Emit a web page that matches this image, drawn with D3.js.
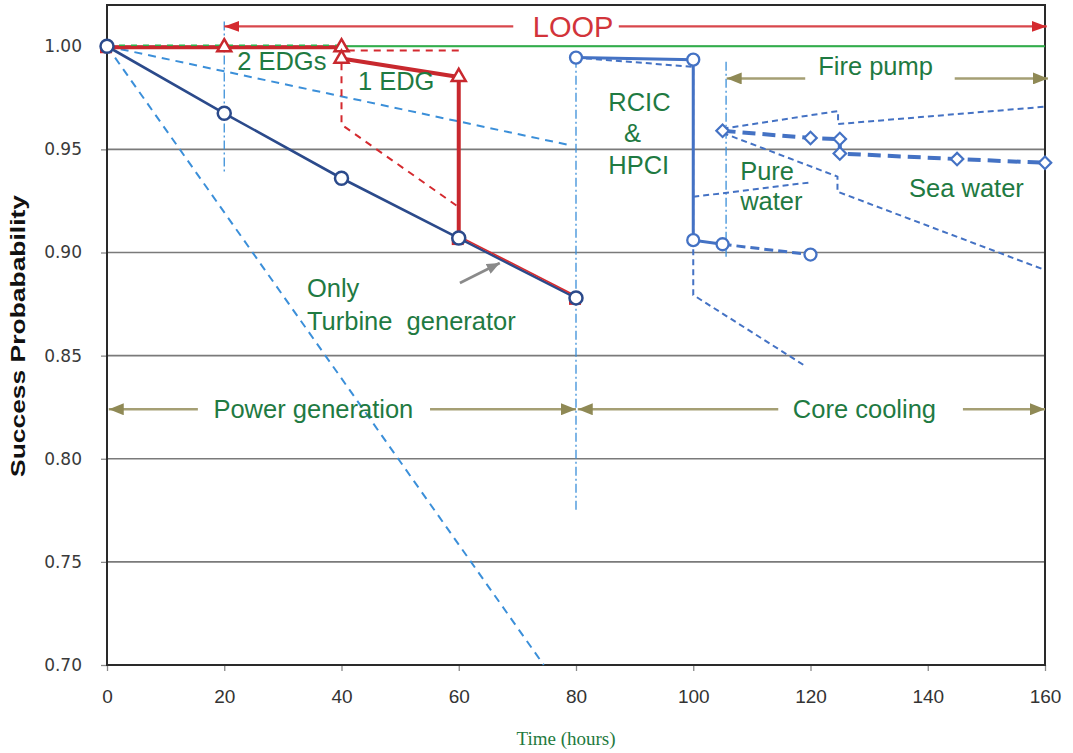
<!DOCTYPE html>
<html><head><meta charset="utf-8">
<script src="https://cdn.jsdelivr.net/npm/d3@7"></script>
<style>body{margin:0;background:#fff} svg{display:block}</style>
</head><body>
<svg id="chart" width="1073" height="753"></svg>
<script>
// ---------- data ----------
const xTicks = [0,20,40,60,80,100,120,140,160];
const yTicks = [0.70,0.75,0.80,0.85,0.90,0.95,1.00];
const gridValues = [0.75,0.80,0.85,0.90,0.95,1.00];

// only turbine generator
const tgHours = [0,20,40,60,80];
const tgProb  = [1.000,0.9675,0.936,0.907,0.878];

// EDG (red)
const edgHours = [0,20,40,40,60,60];
const edgProb  = [1.000,1.000,1.000,0.9945,0.9856,0.907];
const edgMarkHours = [20,40,40,60];
const edgMarkProb  = [1.000,1.000,0.9945,0.9856];
const edgTailHours = [60,80];
const edgTailProb  = [0.907,0.878];
const edgDashHours = [60,40,40,60];
const edgDashProb  = [0.998,0.998,0.962,0.922];

// light blue dashed bounds
const steepHours = [0,74.5];
const steepProb  = [1.000,0.700];
const shallowHours = [0,79];
const shallowProb  = [1.000,0.952];

// LOOP green line
const loopHours = [0,40,160];
const loopProb  = [1.000,1.000,1.000];

// dash-dot verticals
const vlineHours  = [20,80,105.6];
const vlineTop    = [1.012,0.994,0.9925];
const vlineBottom = [0.939,0.774,0.898];

// RCIC & HPCI
const rcicHours = [80,100,100,105];
const rcicProb  = [0.9945,0.9935,0.906,0.904];
const rcicTailHours = [105,120];
const rcicTailProb  = [0.904,0.899];
const rcicMarkHours = [80,100,100,105,120];
const rcicMarkProb  = [0.9945,0.9935,0.906,0.904,0.899];
const rcicBandHours = [80,100,100,119.3];
const rcicBandProb  = [0.9945,0.990,0.8794,0.8446];
const pureHours = [100,120];
const pureProb  = [0.927,0.934];

// Fire pump / sea water
const seaHours = [105,120,125,125,145,160];
const seaProb  = [0.959,0.9555,0.955,0.948,0.9453,0.9435];
const seaUpperHours = [105,124.7,124.7,160];
const seaUpperProb  = [0.960,0.9686,0.9623,0.9707];
const seaLowerHours = [105,124.6,124.6,160];
const seaLowerProb  = [0.958,0.9368,0.9295,0.8915];

// annotations
const annoText   = ["LOOP","2 EDGs","1 EDG","Only","Turbine  generator","Power generation","Core cooling","Fire pump","RCIC","&","HPCI","Pure","water","Sea water"];
const annoHours  = [79.5,22.2,42.8,34.1,34.1,35.2,129.2,131.1,85.5,88.2,85.5,108,108,146.6];
const annoProb   = [1.0044,0.9885,0.9788,0.8784,0.8624,0.8198,0.8198,0.9861,0.9688,0.9534,0.9379,0.9352,0.9207,0.9271];
const annoAnchor = ["middle","start","start","start","start","middle","middle","middle","start","start","start","start","start","middle"];

// span arrows: from (label side) to (tip)
const spanFrom = [69.3,87.3,15.5,55.1,114.5,146,119.1,144.6];
const spanTo   = [20,160.3,0.3,80,80.3,160,105.7,160.5];
const spanProb = [1.0096,1.0096,0.824,0.824,0.824,0.824,0.9844,0.9844];
const spanKind = ["red","red","olive","olive","olive","olive","olive","olive"];

// pointer arrow to turbine line
const pointerHours = [60.2,67.0];
const pointerProb  = [0.8852,0.8949];

// ---------- drawing ----------
const svg = d3.select("#chart");
const x = d3.scaleLinear().domain([0,160]).range([107,1045]);
const y = d3.scaleLinear().domain([0.70,1.02]).range([665,5]);

const defs = svg.append("defs");
function arrowMarker(id, color, w, h){
  defs.append("marker").attr("id",id).attr("markerUnits","userSpaceOnUse")
    .attr("markerWidth",w).attr("markerHeight",h).attr("refX",w).attr("refY",h/2)
    .attr("orient","auto")
    .append("path").attr("d",`M0,0L${w},${h/2}L0,${h}Z`).attr("fill",color);
}
arrowMarker("arRed","#d42a2f",15,11);
arrowMarker("arOlive","#8f8955",15,12);
arrowMarker("arGray","#8a8a8a",13,11);

const line = (hs, ps) => d3.line()(hs.map((h,i)=>[x(h), y(ps[i])]));

// gridlines
svg.append("g").selectAll("line").data(gridValues).join("line")
  .attr("x1",x(0)).attr("x2",x(160)).attr("y1",d=>y(d)).attr("y2",d=>y(d))
  .attr("stroke","#7a7a7a").attr("stroke-width",1.6);

// axes
const yAxis = svg.append("g").attr("transform",`translate(${x(0)},0)`)
  .call(d3.axisLeft(y).tickValues(yTicks).tickFormat(d3.format(".2f")).tickSize(6).tickPadding(19).tickSizeOuter(0));
yAxis.select(".domain").remove();
yAxis.selectAll("line").attr("stroke","#8a8a8a").attr("stroke-width",1.3);
yAxis.selectAll("text").attr("font-family","'DejaVu Sans', Verdana, sans-serif").attr("font-size",17).attr("fill","#3a3a3a");

const xAxis = svg.append("g").attr("transform",`translate(0,${y(0.70)})`)
  .call(d3.axisBottom(x).tickValues(xTicks).tickSize(6).tickPadding(19).tickSizeOuter(0));
xAxis.select(".domain").remove();
xAxis.selectAll("line").attr("stroke","#8a8a8a").attr("stroke-width",1.3);
xAxis.selectAll("text").attr("font-family","'Liberation Sans Narrow','Liberation Sans',sans-serif").attr("font-size",19).attr("fill","#333");

// frame
svg.append("rect").attr("x",x(0)).attr("y",y(1.02)).attr("width",x(160)-x(0)).attr("height",y(0.70)-y(1.02))
  .attr("fill","none").attr("stroke","#2a2a2a").attr("stroke-width",2);

// axis titles
svg.append("text").attr("transform",`translate(25,336) rotate(-90)`).attr("text-anchor","middle")
  .attr("font-family","'Liberation Sans Narrow','Liberation Sans',Arial,sans-serif").attr("font-weight","bold")
  .attr("font-size",21).attr("fill","#111").attr("textLength",282).attr("lengthAdjust","spacingAndGlyphs")
  .text("Success  Probabability");
svg.append("text").attr("x",566).attr("y",745).attr("text-anchor","middle")
  .attr("font-family","'Liberation Serif','Times New Roman',serif").attr("font-size",19).attr("fill","#1f7a40")
  .text("Time (hours)");

// light blue dashed bounds
svg.append("path").attr("d",line(steepHours,steepProb)).attr("fill","none").attr("stroke","#3b8fd9").attr("stroke-width",2).attr("stroke-dasharray","8,6");
svg.append("path").attr("d",line(shallowHours,shallowProb)).attr("fill","none").attr("stroke","#3b8fd9").attr("stroke-width",2).attr("stroke-dasharray","8,6");

// dash-dot verticals
svg.append("g").selectAll("line").data(vlineHours).join("line")
  .attr("x1",d=>x(d)).attr("x2",d=>x(d)).attr("y1",(d,i)=>y(vlineTop[i])).attr("y2",(d,i)=>y(vlineBottom[i]))
  .attr("stroke","#3b8fd9").attr("stroke-width",1.3).attr("stroke-dasharray","9,3,2,3");

// green LOOP line
svg.append("path").attr("d",line(loopHours.slice(1),loopProb.slice(1))).attr("fill","none").attr("stroke","#2fb04a").attr("stroke-width",1.8);

// red dashed
svg.append("path").attr("d",line(edgDashHours,edgDashProb)).attr("fill","none").attr("stroke","#d42a2f").attr("stroke-width",2).attr("stroke-dasharray","7,6");

// turbine only (navy)
svg.append("path").attr("d",line(tgHours,tgProb)).attr("fill","none").attr("stroke","#2b4a8b").attr("stroke-width",2.6);
// red tail (slightly offset)
svg.append("path").attr("d",line(edgTailHours,edgTailProb)).attr("transform","translate(1.5,-1.2)").attr("fill","none").attr("stroke","#d42a2f").attr("stroke-width",1.6);
// red thick
svg.append("path").attr("d",line(edgHours,edgProb)).attr("transform","translate(0,1)").attr("fill","none").attr("stroke","#c8282e").attr("stroke-width",4);
// green dashed over the red
svg.append("path").attr("d",line(loopHours.slice(0,2),loopProb.slice(0,2))).attr("transform","translate(0,-1)").attr("fill","none").attr("stroke","#2fb04a").attr("stroke-width",1.6).attr("stroke-dasharray","6,6");

// red squares under navy markers at 0, 60, 80
svg.append("g").selectAll("rect").data([0,60,80]).join("rect")
  .attr("x",d=>x(d)-7).attr("y",(d)=>y(tgProb[tgHours.indexOf(d)])-1).attr("width",12).attr("height",8).attr("fill","#d42a2f");

// navy circles
svg.append("g").selectAll("circle").data(tgHours).join("circle")
  .attr("cx",d=>x(d)).attr("cy",(d,i)=>y(tgProb[i])).attr("r",6.5)
  .attr("fill","#fff").attr("stroke","#2b4a8b").attr("stroke-width",2.5);

// red triangles
svg.append("g").selectAll("path").data(edgMarkHours).join("path")
  .attr("d",d3.symbol(d3.symbolTriangle,85))
  .attr("transform",(d,i)=>`translate(${x(d)},${y(edgMarkProb[i])+1})`)
  .attr("fill","#fff").attr("stroke","#c8282e").attr("stroke-width",2.5);

// RCIC band (thin dashed)
svg.append("path").attr("d",line(rcicBandHours,rcicBandProb)).attr("fill","none").attr("stroke","#4472c4").attr("stroke-width",2).attr("stroke-dasharray","6,4");
svg.append("path").attr("d",line(pureHours,pureProb)).attr("fill","none").attr("stroke","#4472c4").attr("stroke-width",2).attr("stroke-dasharray","6,4");
// RCIC solid
svg.append("path").attr("d",line(rcicHours,rcicProb)).attr("fill","none").attr("stroke","#4472c4").attr("stroke-width",3);
svg.append("path").attr("d",line(rcicTailHours,rcicTailProb)).attr("fill","none").attr("stroke","#4472c4").attr("stroke-width",3).attr("stroke-dasharray","9,5");
svg.append("g").selectAll("circle").data(rcicMarkHours).join("circle")
  .attr("cx",d=>x(d)).attr("cy",(d,i)=>y(rcicMarkProb[i])).attr("r",6)
  .attr("fill","#fff").attr("stroke","#4472c4").attr("stroke-width",2.3);

// sea water bounds
svg.append("path").attr("d",line(seaUpperHours,seaUpperProb)).attr("fill","none").attr("stroke","#4472c4").attr("stroke-width",2).attr("stroke-dasharray","6,4");
svg.append("path").attr("d",line(seaLowerHours,seaLowerProb)).attr("fill","none").attr("stroke","#4472c4").attr("stroke-width",2).attr("stroke-dasharray","6,4");
// sea main
svg.append("path").attr("d",line(seaHours,seaProb)).attr("fill","none").attr("stroke","#4472c4").attr("stroke-width",4).attr("stroke-dasharray","13,7");
svg.append("g").selectAll("path").data(seaHours).join("path")
  .attr("d",d3.symbol(d3.symbolSquare,78))
  .attr("transform",(d,i)=>`translate(${x(d)},${y(seaProb[i])}) rotate(45)`)
  .attr("fill","#fff").attr("stroke","#4472c4").attr("stroke-width",2.2);

// span arrows
svg.append("g").selectAll("line").data(spanFrom).join("line")
  .attr("x1",d=>x(d)).attr("x2",(d,i)=>x(spanTo[i]))
  .attr("y1",(d,i)=>y(spanProb[i])).attr("y2",(d,i)=>y(spanProb[i]))
  .attr("stroke",(d,i)=>spanKind[i]==="red"?"#d8474c":"#a59f74")
  .attr("stroke-width",(d,i)=>spanKind[i]==="red"?2.2:2.6)
  .attr("marker-end",(d,i)=>spanKind[i]==="red"?"url(#arRed)":"url(#arOlive)");

// pointer arrow
svg.append("line").attr("x1",x(pointerHours[0])).attr("y1",y(pointerProb[0]))
  .attr("x2",x(pointerHours[1])).attr("y2",y(pointerProb[1]))
  .attr("stroke","#8a8a8a").attr("stroke-width",2.6).attr("marker-end","url(#arGray)");

// annotation texts
svg.append("g").selectAll("text").data(annoText).join("text")
  .attr("x",(d,i)=>x(annoHours[i])).attr("y",(d,i)=>y(annoProb[i]))
  .attr("text-anchor",(d,i)=>annoAnchor[i])
  .attr("font-family","'Liberation Sans',Arial,sans-serif")
  .attr("font-size",(d,i)=>i===0?29:25.5)
  .attr("fill",(d,i)=>i===0?"#d2343a":"#1f7a42")
  .style("white-space","pre")
  .text(d=>d);
</script>
</body></html>
